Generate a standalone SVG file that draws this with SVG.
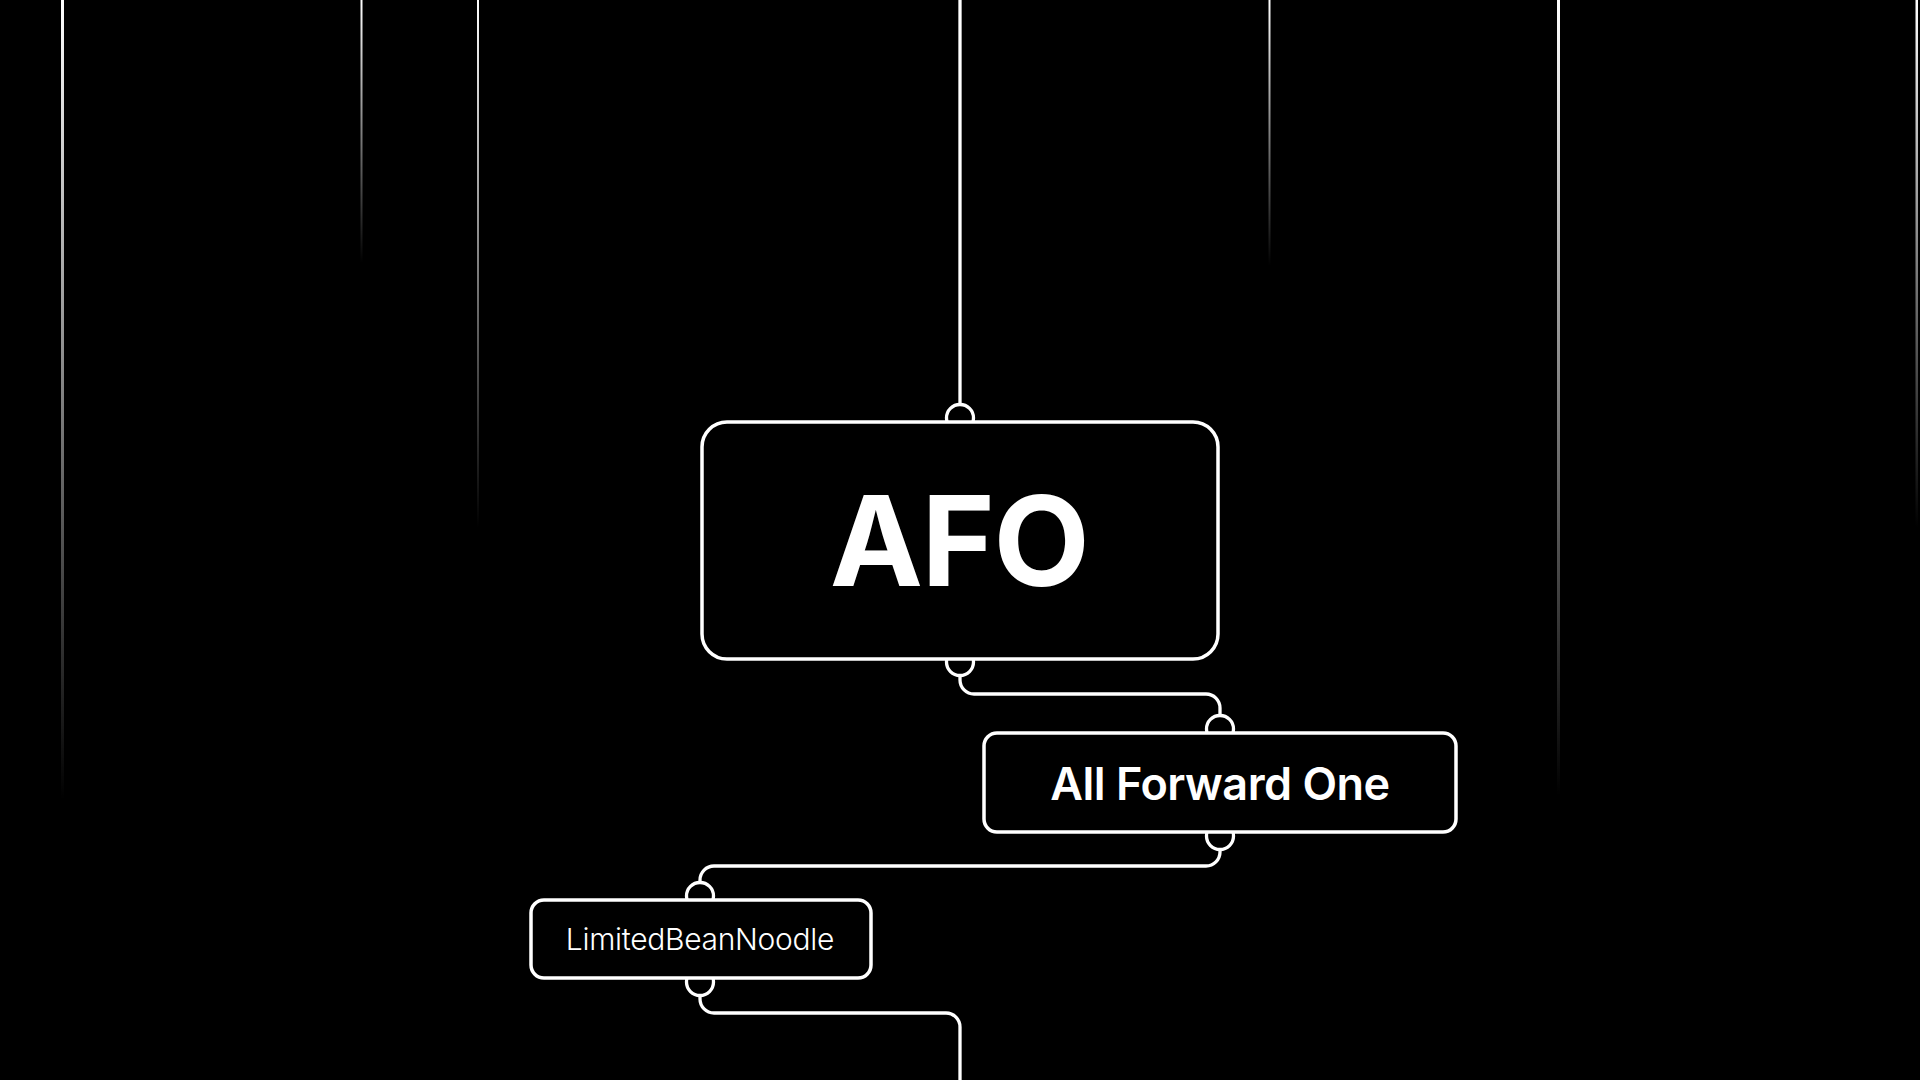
<svg xmlns="http://www.w3.org/2000/svg" width="1920" height="1080" viewBox="0 0 1920 1080">
  <defs>
    <linearGradient id="fade" x1="0" y1="0" x2="0" y2="1">
      <stop offset="0" stop-color="#ffffff" stop-opacity="1"/>
      <stop offset="1" stop-color="#ffffff" stop-opacity="0"/>
    </linearGradient>
    <style>
      .bg { fill: #000000; }
      .streak { fill: url(#fade); }
      .conn { fill: none; stroke: #ffffff; stroke-width: 3.3; stroke-linecap: round; stroke-linejoin: round; }
      .port { fill: #000000; stroke: #ffffff; stroke-width: 3.3; }
      .box { fill: #000000; stroke: #ffffff; stroke-width: 3.5; }
      .label { fill: #ffffff; font-family: Inter, "Liberation Sans", sans-serif; text-anchor: middle; }
    </style>
  </defs>
  <rect class="bg" x="0" y="0" width="1920" height="1080"/>

  <g id="streaks">
    <rect class="streak" x="61" y="0" width="3" height="800"/>
    <rect class="streak" x="360.5" y="0" width="2" height="263"/>
    <rect class="streak" x="477" y="0" width="2" height="528"/>
    <rect class="streak" x="1268.5" y="0" width="2" height="266"/>
    <rect class="streak" x="1557" y="0" width="3" height="796"/>
    <rect class="streak" x="1915.5" y="0" width="2.5" height="528"/>
  </g>

  <g id="connectors">
    <path class="conn" d="M960 0 V405"/>
    <path class="conn" d="M960 675 V680 A14 14 0 0 0 974 694 H1206 A14 14 0 0 1 1220 708 V716"/>
    <path class="conn" d="M1220 849 V852 A14 14 0 0 1 1206 866 H714 A14 14 0 0 0 700 880 V883"/>
    <path class="conn" d="M700 995 V999 A14 14 0 0 0 714 1013 H946 A14 14 0 0 1 960 1027 V1082"/>
  </g>

  <g id="node-afo">
    <circle class="port" cx="960" cy="418" r="13.5"/>
    <circle class="port" cx="960" cy="662" r="13.5"/>
    <rect class="box" x="702" y="422" width="516" height="237" rx="25"/>
    <text class="label" x="959" y="586" font-size="125" font-weight="700" letter-spacing="-1.5">AFO</text>
  </g>

  <g id="node-all-forward-one">
    <circle class="port" cx="1220" cy="729" r="13.5"/>
    <circle class="port" cx="1220" cy="836" r="13.5"/>
    <rect class="box" x="984" y="733" width="472" height="99" rx="13"/>
    <text class="label" x="1220" y="800" font-size="45" font-weight="600" letter-spacing="-0.5">All Forward One</text>
  </g>

  <g id="node-limitedbeannoodle">
    <circle class="port" cx="700" cy="896" r="13.5"/>
    <circle class="port" cx="700" cy="982" r="13.5"/>
    <rect class="box" x="531" y="900" width="340" height="78" rx="13"/>
    <text class="label" x="700" y="950" font-size="30" font-weight="300" letter-spacing="-0.3">LimitedBeanNoodle</text>
  </g>
</svg>
